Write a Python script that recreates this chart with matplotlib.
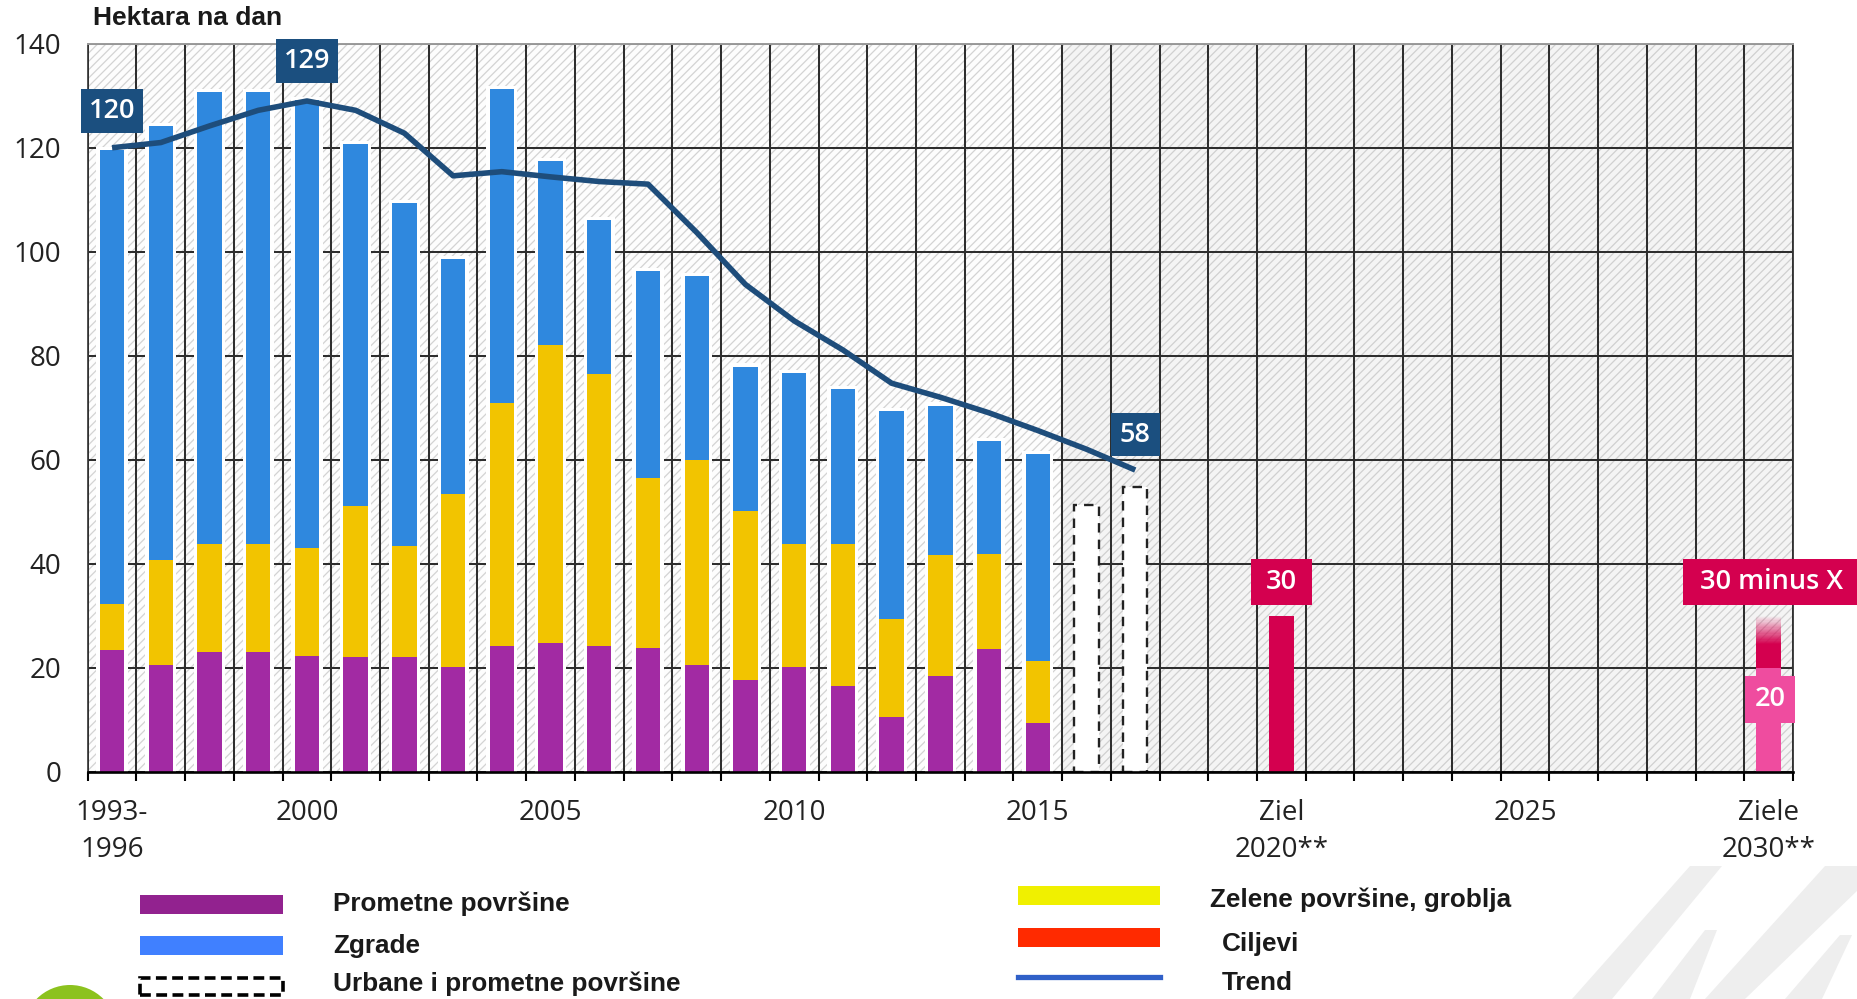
import matplotlib
matplotlib.use("Agg")
import matplotlib.pyplot as plt
from matplotlib.patches import Rectangle, Circle, Polygon
from matplotlib.lines import Line2D
import numpy as np

# ---- data -------------------------------------------------------------
periods = ["1993-1996"] + [str(y) for y in range(1997, 2031)]

# measured years 1993-1996 .. 2015 (hectares per day)
transport = [23.3, 20.4, 23.0, 23.0, 22.3, 22.1, 22.1, 20.1, 24.2, 24.8,
             24.1, 23.8, 20.4, 17.6, 20.1, 16.5, 10.5, 18.3, 23.6, 9.4]
green_space = [9.0, 20.3, 20.7, 20.7, 20.7, 29.0, 21.3, 33.3, 46.7, 57.2,
               52.3, 32.6, 39.6, 32.5, 23.6, 27.3, 18.9, 23.3, 18.3, 11.8]
buildings = [87.2, 83.5, 87.0, 87.0, 86.1, 69.6, 66.0, 45.2, 60.4, 35.4,
             29.7, 39.8, 35.3, 27.8, 33.0, 29.7, 39.9, 28.8, 21.7, 39.8]

# total urban and transport area only (no breakdown)
urban_years = ["2016", "2017"]
urban_total = [51.2, 54.7]

# four-year moving trend, 1993-1996 .. 2017
trend = [120, 121, 124.2, 127.2, 129, 127.2, 122.8, 114.6, 115.4, 114.4,
         113.5, 113.0, 103.7, 93.7, 86.7, 81.1, 74.7, 72.0, 69.0, 65.6,
         62.0, 58]

target_2020 = 30
target_2030_low = 20
target_2030_high = 30

tick_periods = ["1993-1996", "2000", "2005", "2010", "2015", "2020", "2025", "2030"]
tick_texts = ["1993-\n1996", "2000", "2005", "2010", "2015", "Ziel\n2020**",
              "2025", "Ziele\n2030**"]

legend_left = ["Prometne površine", "Zgrade", "Urbane i prometne površine"]
legend_right = ["Zelene površine, groblja", "Ciljevi", "Trend"]

# ---- style ------------------------------------------------------------
C_PURPLE = "#a22aa3"
C_BLUE = "#2f88de"
C_YELLOW = "#f2c400"
C_TREND = "#1e4d7b"
C_NAVY = "#1b4f7f"
C_CRIMSON = "#d4004f"
C_PINK = "#ef4c9f"
TICK_FONT = ["Open Sans", "DejaVu Sans"]
LABEL_FONT = ["Liberation Sans", "DejaVu Sans"]

plt.rcParams["hatch.linewidth"] = 0.9

W, H = 1858, 999
fig = plt.figure(figsize=(W / 100, H / 100), dpi=100)
fig.patch.set_facecolor("white")

left_px, right_px, top_px, bottom_px = 87.7, 1793, 43.8, 771.5
ax = fig.add_axes([left_px / W, 1 - bottom_px / H,
                   (right_px - left_px) / W, (bottom_px - top_px) / H])

n = len(periods)
x = np.arange(n)
ax.set_xlim(-0.5, n - 0.5)
ax.set_ylim(0, 140)

# hatched backgrounds: observed period and outlook period
n_obs = len(transport)
ax.add_patch(Rectangle((-0.5, 0), n_obs, 140, facecolor="#fdfdfd",
                       edgecolor="#d3d3d3", hatch="////", lw=0, zorder=0))
ax.add_patch(Rectangle((n_obs - 0.5, 0), n - n_obs, 140, facecolor="#f4f4f4",
                       edgecolor="#d0d0d0", hatch="////", lw=0, zorder=0))

# grid
ax.set_xticks(np.arange(-0.5, n + 0.5, 1))
ax.set_yticks(np.arange(0, 141, 20))
ax.set_axisbelow(True)
ax.grid(True, color="#2e2e2e", lw=1.45)

# ---- stacked bars -----------------------------------------------------
bw = 0.5
xo = x[:n_obs]
tot = np.array(transport) + np.array(green_space) + np.array(buildings)
ax.bar(xo, tot + 0.6, width=bw + 0.14, color="white", zorder=2)
ax.bar(xo, transport, width=bw, color=C_PURPLE, zorder=3)
ax.bar(xo, green_space, width=bw, bottom=transport, color=C_YELLOW, zorder=3)
ax.bar(xo, buildings, width=bw,
       bottom=np.array(transport) + np.array(green_space), color=C_BLUE, zorder=3)

# urban + transport totals only
xu = [periods.index(y) for y in urban_years]
ax.bar(xu, urban_total, width=bw, facecolor="white", edgecolor="#222222",
       linestyle=(0, (4, 3)), lw=1.7, zorder=3)

# targets
i20 = periods.index("2020")
i30 = periods.index("2030")
ax.bar(i20, target_2020, width=bw, color=C_CRIMSON, zorder=3)
ax.bar(i30, target_2030_low, width=bw, color=C_PINK, zorder=3)
solid_top = target_2030_low + 4.5
ax.bar(i30, solid_top - target_2030_low, width=bw, bottom=target_2030_low,
       color=C_CRIMSON, zorder=3)
steps = 24
edges = np.linspace(solid_top, target_2030_high, steps + 1)
for k in range(steps):
    ax.bar(i30, edges[k + 1] - edges[k], width=bw, bottom=edges[k],
           color=C_CRIMSON, alpha=1 - (k + 0.5) / steps, lw=0, zorder=3)

# trend line
ax.plot(x[:len(trend)], trend, color=C_TREND, lw=4.0, zorder=4,
        solid_capstyle="butt", solid_joinstyle="round")


# ---- value boxes ------------------------------------------------------
def value_box(cx, cy, w, h, text, color, size=19.5):
    ax.add_patch(Rectangle((cx - w / 2, cy - h / 2), w, h, facecolor=color,
                           edgecolor="none", zorder=6, clip_on=False))
    ax.text(cx, cy, text, color="white", ha="center", va="center",
            fontsize=size, family=TICK_FONT, fontweight="semibold",
            zorder=7, clip_on=False)


i_peak = int(np.argmax(trend))
value_box(0, trend[0] + 7.1, 1.29, 8.4, f"{trend[0]:.0f}", C_NAVY)
value_box(i_peak, trend[i_peak] + 7.7, 1.29, 8.4, f"{trend[i_peak]:.0f}", C_NAVY)
value_box(len(trend) - 1, trend[-1] + 6.8, 1.0, 8.2, f"{trend[-1]:.0f}", C_NAVY)
value_box(i20, target_2020 + 6.4, 1.24, 8.9, f"{target_2020}", C_CRIMSON)
value_box(i30 + 0.05, target_2030_high + 6.4, 3.6, 8.9,
          f"{target_2030_high} minus X", C_CRIMSON)
value_box(i30 + 0.03, target_2030_low - 6.1, 1.02, 9.1,
          f"{target_2030_low}", C_PINK)

# ---- axes decoration ----------------------------------------------------
ax.tick_params(axis="x", which="major", direction="out", length=6.5,
               width=1.5, color="black", labelbottom=False)
ax.set_xticks([periods.index(p) for p in tick_periods], tick_texts, minor=True)
ax.tick_params(axis="x", which="minor", length=0, pad=20, labelsize=20,
               colors="#222222")
for lbl in ax.get_xticklabels(minor=True):
    lbl.set_family(TICK_FONT)
    lbl.set_linespacing(1.42)

ax.tick_params(axis="y", which="major", length=0, pad=19, labelsize=20,
               colors="#222222")
for lbl in ax.get_yticklabels():
    lbl.set_family(TICK_FONT)

ax.spines["bottom"].set_color("black")
ax.spines["bottom"].set_linewidth(1.9)
ax.spines["bottom"].set_zorder(5)
ax.spines["left"].set_color("#333333")
ax.spines["left"].set_linewidth(1.2)
ax.spines["top"].set_color("#9a9a9a")
ax.spines["top"].set_linewidth(1.4)
ax.spines["right"].set_color("#333333")
ax.spines["right"].set_linewidth(1.3)

fig.text(93 / W, 1 - 18 / H, "Hektara na dan", fontsize=19, fontweight="bold",
         family=LABEL_FONT, ha="left", va="center", color="#1a1a1a")


# ---- legend -----------------------------------------------------------
def fx(px):
    return px / W


def fy(py):
    return 1 - py / H


def swatch(x0, x1, y0, y1, **kw):
    fig.add_artist(Rectangle((fx(x0), fy(y1)), fx(x1) - fx(x0), fy(y0) - fy(y1),
                             transform=fig.transFigure, **kw))


swatch(140, 283, 895, 914, facecolor="#92228f", edgecolor="none")
swatch(140, 283, 936, 955, facecolor="#4080ff", edgecolor="none")
swatch(140, 283, 978, 995, facecolor="white", edgecolor="black", lw=2.6,
       linestyle=(0, (3, 1.5)))
swatch(1018, 1160, 886, 905, facecolor="#f0f000", edgecolor="none")
swatch(1018, 1160, 928, 947, facecolor="#ff2a00", edgecolor="none")
fig.add_artist(Line2D([fx(1018), fx(1160)], [fy(976.5), fy(976.5)],
                      transform=fig.transFigure, color="#3060c8", lw=3.8))

for txt, ty in zip(legend_left, [904, 946, 984]):
    fig.text(fx(333), fy(ty), txt, fontsize=18.8, fontweight="bold",
             family=LABEL_FONT, ha="left", va="center", color="#1a1a1a")
for txt, tx, ty in zip(legend_right, [1210, 1222, 1222], [900, 944, 983]):
    fig.text(fx(tx), fy(ty), txt, fontsize=18.8, fontweight="bold",
             family=LABEL_FONT, ha="left", va="center", color="#1a1a1a")

# corner logos
fig.add_artist(Circle((0.70, -0.33), 0.47, transform=fig.dpi_scale_trans,
                      facecolor="#8cc21e", edgecolor="none"))
for pts in ([(1572, 999), (1690, 866), (1722, 866), (1612, 999)],
            [(1652, 999), (1705, 930), (1717, 930), (1690, 999)],
            [(1705, 999), (1825, 866), (1858, 866), (1858, 890), (1745, 999)],
            [(1785, 999), (1840, 935), (1852, 935), (1822, 999)]):
    fig.add_artist(Polygon([(fx(a), fy(b)) for a, b in pts], closed=True,
                           transform=fig.transFigure, facecolor="#eeeeee",
                           edgecolor="none"))

fig.savefig("out.png", dpi=100, facecolor="white")
